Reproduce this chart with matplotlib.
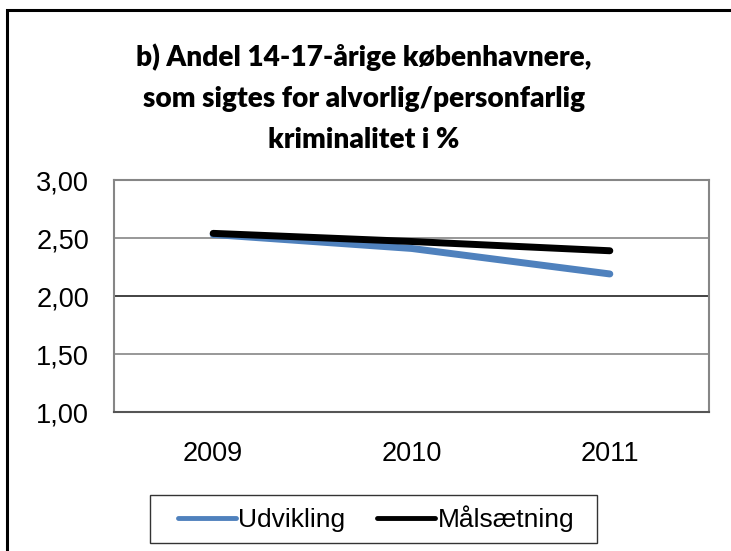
import matplotlib
matplotlib.use("Agg")
import matplotlib.pyplot as plt
from matplotlib.patches import Rectangle

years = ["2009", "2010", "2011"]
udvikling = [2.53, 2.41, 2.19]
maalsaetning = [2.54, 2.47, 2.39]
yticks = [1.0, 1.5, 2.0, 2.5, 3.0]
ytick_labels = ["1,00", "1,50", "2,00", "2,50", "3,00"]
title = "b) Andel 14-17-årige københavnere,\nsom sigtes for alvorlig/personfarlig\nkriminalitet i %"

W, H = 731, 551
fig = plt.figure(figsize=(W / 100, H / 100), dpi=100)
fig.patch.set_facecolor("white")

# outer chart border
fig.patches.append(Rectangle((7 / W, -0.1), 1.2, 1 - 10 / H + 0.1, transform=fig.transFigure,
                             fill=False, edgecolor="black", linewidth=2.2))
# legend box
fig.patches.append(Rectangle((150 / W, 1 - 543 / H), (597 - 150) / W, (543 - 495) / H,
                             transform=fig.transFigure, fill=False, edgecolor="#333333",
                             linewidth=1.0))

ax = fig.add_axes([114 / W, 1 - 412 / H, (709 - 114) / W, (412 - 180) / H])
x = list(range(len(years)))
ax.plot(x, udvikling, color="#4F81BD", linewidth=5, solid_capstyle="round", label="Udvikling", zorder=3)
ax.plot(x, maalsaetning, color="black", linewidth=5, solid_capstyle="round", label="Målsætning", zorder=4)

ax.set_xlim(-0.5, len(years) - 0.5)
ax.set_ylim(1.0, 3.0)
ax.set_xticks(x)
ax.set_xticklabels(years)
ax.set_yticks(yticks)
ax.set_yticklabels(ytick_labels)
ax.tick_params(axis="both", length=0, labelsize=19.5)
ax.tick_params(axis="y", pad=18)
ax.tick_params(axis="x", pad=21)
for lab in ax.get_xticklabels() + ax.get_yticklabels():
    lab.set_fontfamily("Liberation Sans")
ax.yaxis.grid(True, color="#868686", linewidth=1.2)
for gl, v in zip(ax.get_ygridlines(), yticks):
    if v == 2.0:
        gl.set_color("#222222")
ax.set_axisbelow(True)
for s in ax.spines.values():
    s.set_color("#868686")
    s.set_linewidth(1.5)
ax.spines["bottom"].set_color("#555555")

leg = ax.legend(loc="center", bbox_to_anchor=(376 / W, 1 - 519 / H), bbox_transform=fig.transFigure,
                ncol=2, frameon=False, handlelength=2.2, handletextpad=0.1,
                columnspacing=1.2, prop={"family": "Liberation Sans", "size": 19},
                borderpad=0.0, borderaxespad=0)
for line in leg.get_lines():
    line.set_linewidth(3.5)

fig.text(364 / W, 1 - 98 / H, title, ha="center", va="center", fontsize=20.2,
         fontweight="heavy", family="Lato", linespacing=1.72)

fig.savefig("out.png", dpi=100)
